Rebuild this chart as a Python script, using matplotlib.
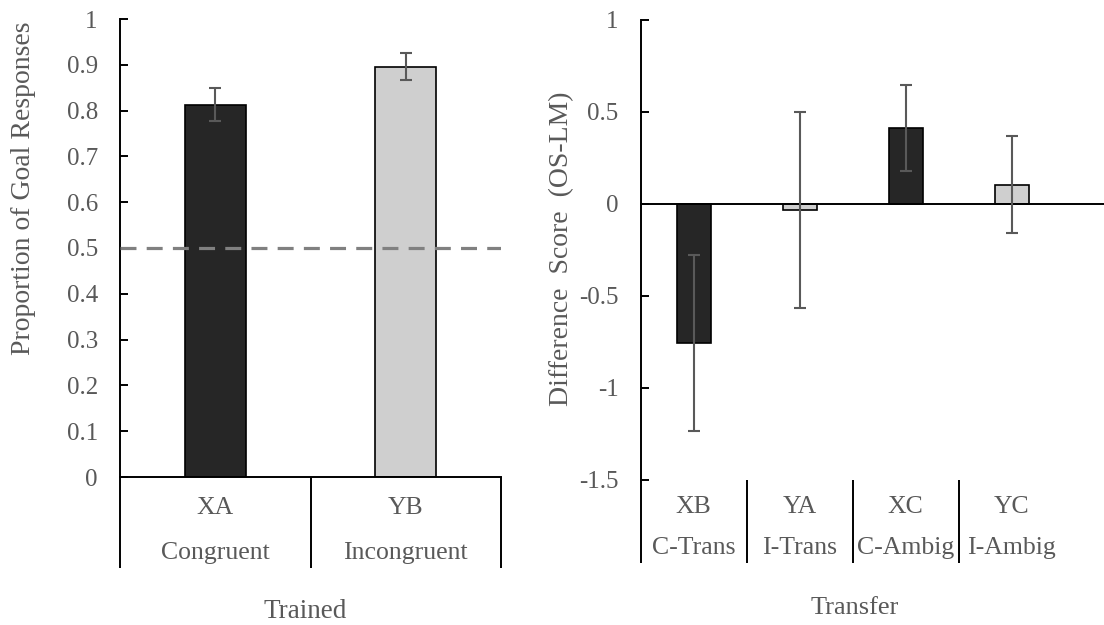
import matplotlib
matplotlib.use('Agg')
import matplotlib.pyplot as plt
import matplotlib.transforms as mtransforms
import numpy as np

plt.rcParams['font.family'] = 'serif'
plt.rcParams['font.serif'] = ['Liberation Serif', 'DejaVu Serif']
plt.rcParams['axes.unicode_minus'] = False

TEXT = '#595959'
DARK = '#262626'
LIGHT = '#cfcfcf'
ERR = '#595959'

# Trained stimuli
trained_codes = ['XA', 'YB']
trained_names = ['Congruent', 'Incongruent']
trained_means = [0.813, 0.896]
trained_err = [0.036, 0.030]
trained_colors = [DARK, LIGHT]
chance = 0.5

# Transfer stimuli
transfer_codes = ['XB', 'YA', 'XC', 'YC']
transfer_names = ['C-Trans', 'I-Trans', 'C-Ambig', 'I-Ambig']
transfer_means = [-0.755, -0.032, 0.412, 0.105]
transfer_err = [0.478, 0.532, 0.234, 0.265]
transfer_colors = [DARK, LIGHT, DARK, LIGHT]

W, H = 1104, 625
fig = plt.figure(figsize=(W / 100, H / 100), dpi=100)


def px_axes(x0, y0, x1, y1):
    return fig.add_axes([x0 / W, 1 - y1 / H, (x1 - x0) / W, (y1 - y0) / H])


def style_axis(ax):
    for s in ['top', 'right']:
        ax.spines[s].set_visible(False)
    ax.spines['left'].set_linewidth(1.4)
    ax.spines['bottom'].set_linewidth(1.4)
    ax.tick_params(axis='y', direction='in', length=6, width=1.4,
                   pad=16, labelsize=18, labelcolor=TEXT)
    ax.tick_params(axis='x', length=0, labelbottom=False)


def category_labels(ax, codes, names, y_code, y_name, y_sep, seps):
    tr = mtransforms.blended_transform_factory(ax.transData, ax.transAxes)
    for i, (c, n) in enumerate(zip(codes, names)):
        ax.text(i, y_code, c, transform=tr, ha='center', va='center',
                fontsize=18.5, color=TEXT)
        ax.text(i, y_name, n, transform=tr, ha='center', va='center',
                fontsize=18.5, color=TEXT)
    for s in seps:
        ax.plot([s, s], [0, y_sep], transform=tr, color='black',
                lw=1.4, clip_on=False, solid_capstyle='butt')


# ---- left panel: trained ----
ax1 = px_axes(120, 19, 501, 477)
style_axis(ax1)
x1 = np.arange(len(trained_codes))
ax1.bar(x1, trained_means, width=0.32, color=trained_colors,
        edgecolor='black', linewidth=1.2, zorder=2)
ax1.errorbar(x1, trained_means, yerr=trained_err, fmt='none', ecolor=ERR,
             elinewidth=1.5, capsize=4, capthick=1.5, zorder=3)
ax1.axhline(chance, color='#808080', lw=2.3, dashes=(5, 3.2), zorder=4)
ax1.set_xlim(-0.5, 1.5)
ax1.set_ylim(0, 1)
ax1.set_yticks(np.arange(0, 1.01, 0.1))
ax1.set_yticklabels(['0'] + [f'{v:.1f}' for v in np.arange(0.1, 0.95, 0.1)] + ['1'])
category_labels(ax1, trained_codes, trained_names, -0.068, -0.166, -0.199,
                [-0.5, 0.5, 1.5])
fig.text(24 / W, 1 - 188 / H, 'Proportion of Goal Responses', rotation=90,
         ha='center', va='center', fontsize=20, color=TEXT)
fig.text(305 / W, 1 - 612 / H, 'Trained', ha='center', va='center',
         fontsize=19.5, color=TEXT)

# ---- right panel: transfer ----
ax2 = px_axes(640.7, 20, 1104, 480)
style_axis(ax2)
ax2.spines['bottom'].set_position(('data', 0))
x2 = np.arange(len(transfer_codes))
ax2.bar(x2, transfer_means, width=0.32, color=transfer_colors,
        edgecolor='black', linewidth=1.2, zorder=2)
ax2.errorbar(x2, transfer_means, yerr=transfer_err, fmt='none', ecolor=ERR,
             elinewidth=1.5, capsize=4, capthick=1.5, zorder=3)
ax2.set_xlim(-0.5, -0.5 + (1104 - 640.7) / 106)
ax2.set_ylim(-1.5, 1)
ax2.set_yticks([-1.5, -1, -0.5, 0, 0.5, 1])
ax2.set_yticklabels(['-1.5', '-1', '-0.5', '0', '0.5', '1'])
category_labels(ax2, transfer_codes, transfer_names, -0.059, -0.148, -0.180,
                [-0.5, 0.5, 1.5, 2.5])
fig.text(562 / W, 1 - 249 / H, 'Difference  Score  (OS-LM)', rotation=90,
         ha='center', va='center', fontsize=20, color=TEXT)
fig.text(855 / W, 1 - 608 / H, 'Transfer', ha='center', va='center',
         fontsize=19, color=TEXT)

fig.savefig('out.png', dpi=100, facecolor='white')
